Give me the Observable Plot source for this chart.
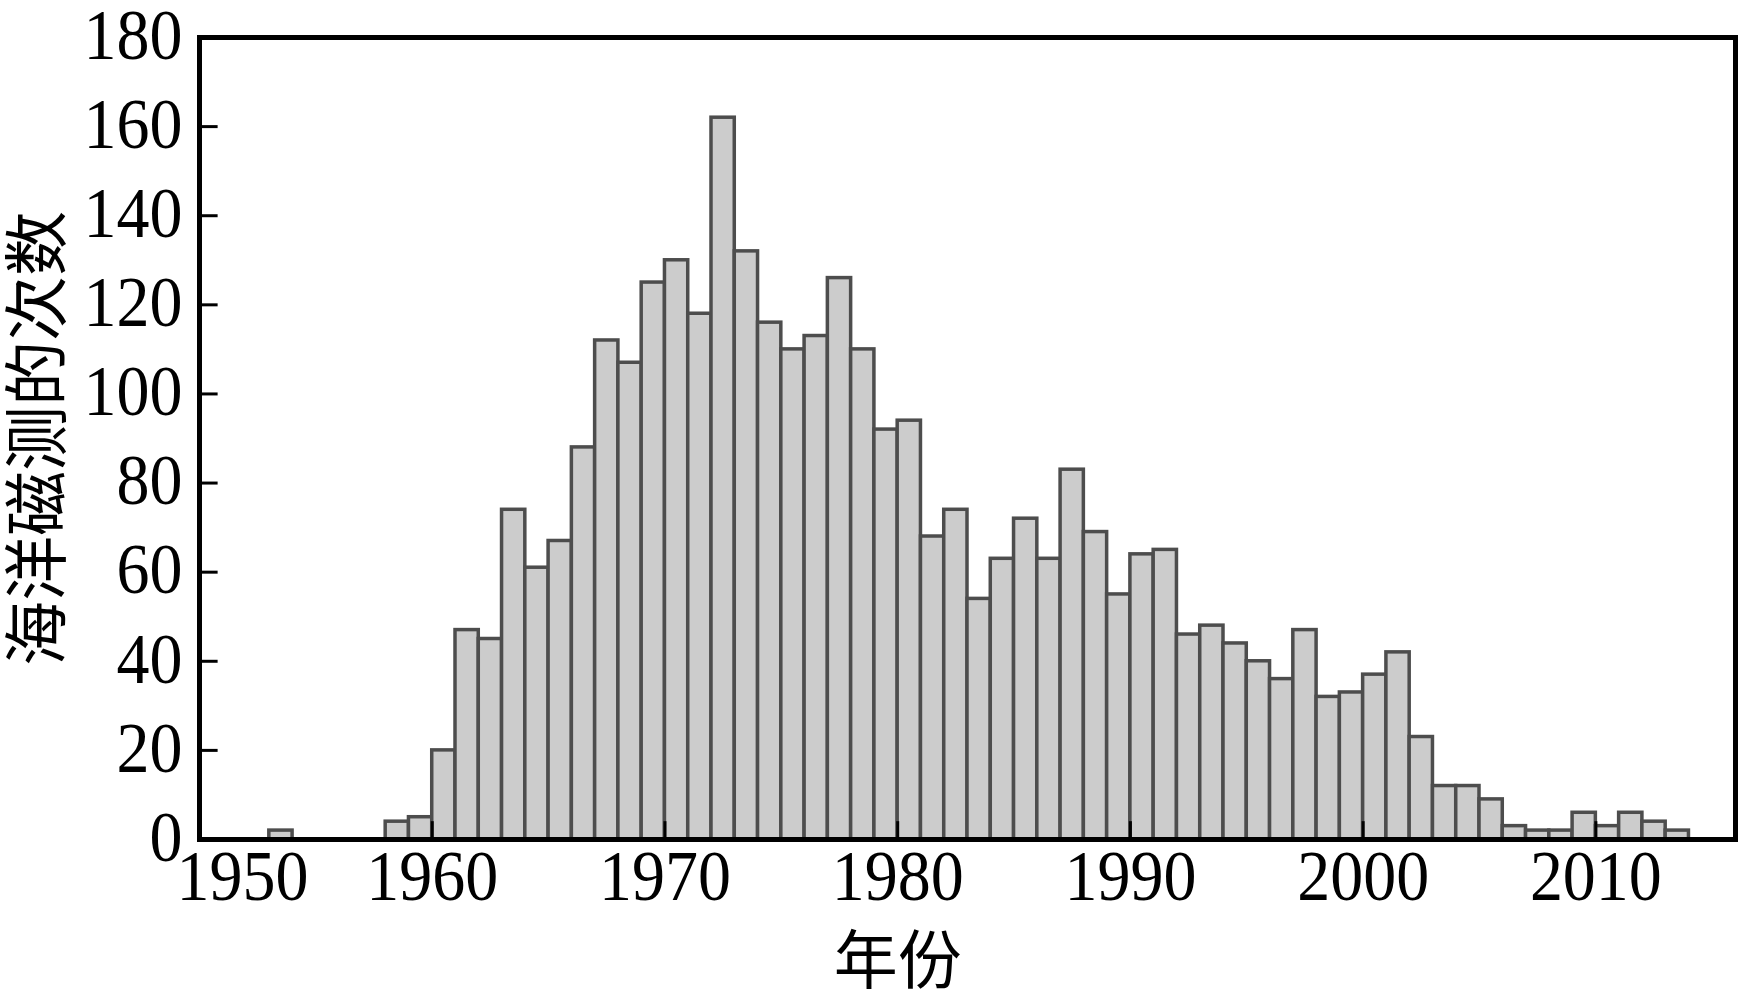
<!DOCTYPE html>
<html>
<head>
<meta charset="utf-8">
<script src="https://cdn.jsdelivr.net/npm/d3@7"></script>
<script src="https://cdn.jsdelivr.net/npm/@observablehq/plot@0.6"></script>
<style>
  html, body { margin: 0; padding: 0; background: #fff; }
  #chart svg { display: block; }
</style>
</head>
<body>
<div id="chart"></div>
<script>
// Years (one bar per year, bar spans [year, year+1])
const years = [1953,
  1958, 1959, 1960, 1961, 1962, 1963, 1964, 1965, 1966, 1967,
  1968, 1969, 1970, 1971, 1972, 1973, 1974, 1975, 1976, 1977,
  1978, 1979, 1980, 1981, 1982, 1983, 1984, 1985, 1986, 1987,
  1988, 1989, 1990, 1991, 1992, 1993, 1994, 1995, 1996, 1997,
  1998, 1999, 2000, 2001, 2002, 2003, 2004, 2005, 2006, 2007,
  2008, 2009, 2010, 2011, 2012, 2013];
// Number of ocean magnetic surveys per year
const counts = [2,
  4, 5, 20, 47, 45, 74, 61, 67, 88, 112,
  107, 125, 130, 118, 162, 132, 116, 110, 113, 126,
  110, 92, 94, 68, 74, 54, 63, 72, 63, 83,
  69, 55, 64, 65, 46, 48, 44, 40, 36, 47,
  32, 33, 37, 42, 23, 12, 12, 9, 3, 2,
  2, 6, 3, 6, 4, 2];
const xTicks = [1950, 1960, 1970, 1980, 1990, 2000, 2010];
const yTicks = [0, 20, 40, 60, 80, 100, 120, 140, 160, 180];
const xLabel = "年份";
const yLabel = "海洋磁测的次数";

const data = years.map((y, i) => ({year: y, count: counts[i]}));

const serif = "'Liberation Serif', 'Times New Roman', serif";
const cjk = "'Noto Sans CJK SC', sans-serif";

const chart = Plot.plot({
  width: 1738,
  height: 996,
  marginLeft: 199,
  marginRight: 3,
  marginTop: 37,
  marginBottom: 157,
  x: {domain: [1950, 2016], axis: null},
  y: {domain: [0, 180], axis: null},
  marks: [
    Plot.rectY(data, {
      x1: d => d.year, x2: d => d.year + 1, y: "count",
      fill: "#cccccc", stroke: "#4d4d4d", strokeWidth: 3.5
    }),
    Plot.ruleX(xTicks, {x: d => d, y1: 0, y2: 4, stroke: "black", strokeWidth: 3}),
    Plot.ruleY(yTicks, {y: d => d, x1: 1950, x2: 1950.8, stroke: "black", strokeWidth: 3}),
    Plot.frame({stroke: "black", strokeWidth: 5}),
    Plot.text(yTicks, {
      y: d => d, text: d => String(d), frameAnchor: "left",
      textAnchor: "end", dx: -17, dy: -2, fontSize: 66, fontFamily: serif, fill: "black"
    }),
    Plot.text(xTicks.filter(d => d !== 1950), {
      x: d => d, text: d => String(d), frameAnchor: "bottom",
      dy: 60, fontSize: 66, fontFamily: serif, fill: "black"
    }),
    Plot.text(xTicks.filter(d => d === 1950), {
      x: d => d, text: d => String(d), frameAnchor: "bottom",
      dy: 60, dx: 43, fontSize: 66, fontFamily: serif, fill: "black"
    }),
    Plot.text([xLabel], {
      x: 1980, text: d => d, frameAnchor: "bottom",
      dy: 143, fontSize: 64, fontFamily: cjk, fill: "black"
    }),
    Plot.text([yLabel], {
      text: d => d, frameAnchor: "left", textAnchor: "middle", rotate: -90,
      dx: -160, fontSize: 65, fontFamily: cjk, fill: "black"
    })
  ]
});
// The reference's serif numerals are slightly taller than wide: stretch them vertically a little.
chart.querySelectorAll('g[font-family*="Liberation"] text').forEach(t => {
  const tr = t.getAttribute("transform") || "";
  t.setAttribute("transform", (tr + " scale(1,1.1)").trim());
});
document.getElementById("chart").appendChild(chart);
</script>
</body>
</html>
